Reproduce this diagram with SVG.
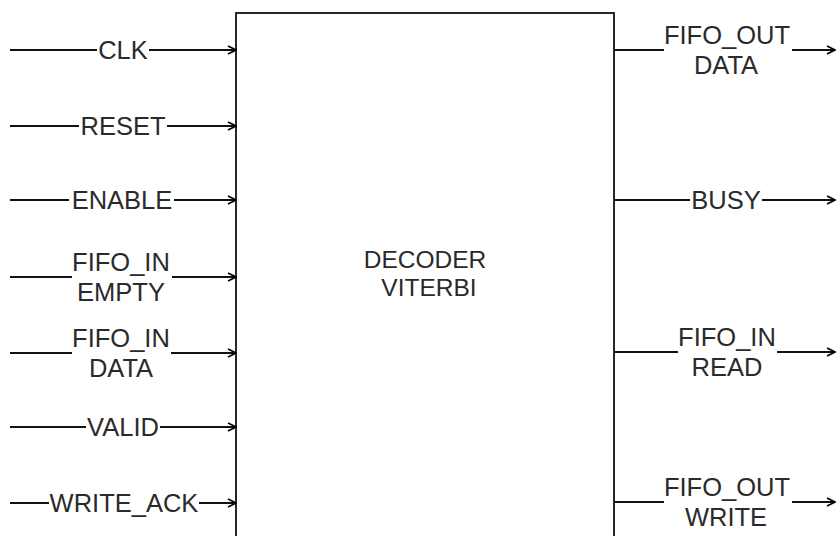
<svg xmlns="http://www.w3.org/2000/svg" width="837" height="536" viewBox="0 0 837 536">
<defs>
<marker id="arr" viewBox="0 0 10 10" refX="9" refY="5" markerWidth="10" markerHeight="10" markerUnits="userSpaceOnUse" orient="auto">
<path d="M1,1 L9,5 L1,9" fill="none" stroke="#000" stroke-width="1.6"/>
</marker>
<style>
.w{stroke:#111;stroke-width:1.8;fill:none}
.t{font-family:"Liberation Sans",Arial,sans-serif;font-size:25.5px;fill:#2a2a2a;text-anchor:middle}
.c{font-size:24.5px}
</style>
</defs>
<rect width="837" height="536" fill="#fff"/>
<g id="decoder">
<rect x="236" y="13" width="378" height="540" class="w" stroke-width="2"/>
<text class="t c" x="425" y="268">DECODER</text>
<text class="t c" x="429" y="296">VITERBI</text>
</g>
<g id="connectors">
<path class="w" d="M10,50 H97 M149,50 H236" marker-end="url(#arr)"/>
<path class="w" d="M10,126 H79 M167,126 H236" marker-end="url(#arr)"/>
<path class="w" d="M10,200 H69 M174,200 H236" marker-end="url(#arr)"/>
<path class="w" d="M10,277 H72 M172,277 H236" marker-end="url(#arr)"/>
<path class="w" d="M10,353 H72 M171,353 H236" marker-end="url(#arr)"/>
<path class="w" d="M10,427 H86 M160,427 H236" marker-end="url(#arr)"/>
<path class="w" d="M10,503 H49 M199,503 H236" marker-end="url(#arr)"/>
<path class="w" d="M614,50 H664 M792,50 H835" marker-end="url(#arr)"/>
<path class="w" d="M614,200 H690 M762,200 H835" marker-end="url(#arr)"/>
<path class="w" d="M614,352 H678 M777,352 H835" marker-end="url(#arr)"/>
<path class="w" d="M614,502 H664 M792,502 H835" marker-end="url(#arr)"/>
</g>
<g id="in-clk"><text class="t" x="123" y="59">CLK</text></g>
<g id="in-reset"><text class="t" x="123" y="135">RESET</text></g>
<g id="in-enable"><text class="t" x="122" y="209">ENABLE</text></g>
<g id="in-fifo-in-empty"><text class="t" x="121" y="271">FIFO_IN</text><text class="t" x="121" y="301">EMPTY</text></g>
<g id="in-fifo-in-data"><text class="t" x="121" y="347">FIFO_IN</text><text class="t" x="121" y="377">DATA</text></g>
<g id="in-valid"><text class="t" x="123" y="436">VALID</text></g>
<g id="in-write-ack"><text class="t" x="124" y="512">WRITE_ACK</text></g>
<g id="out-fifo-out-data"><text class="t" x="727" y="44">FIFO_OUT</text><text class="t" x="726" y="74">DATA</text></g>
<g id="out-busy"><text class="t" x="726" y="209">BUSY</text></g>
<g id="out-fifo-in-read"><text class="t" x="727" y="346">FIFO_IN</text><text class="t" x="727" y="376">READ</text></g>
<g id="out-fifo-out-write"><text class="t" x="727" y="496">FIFO_OUT</text><text class="t" x="726" y="526">WRITE</text></g>
</svg>
